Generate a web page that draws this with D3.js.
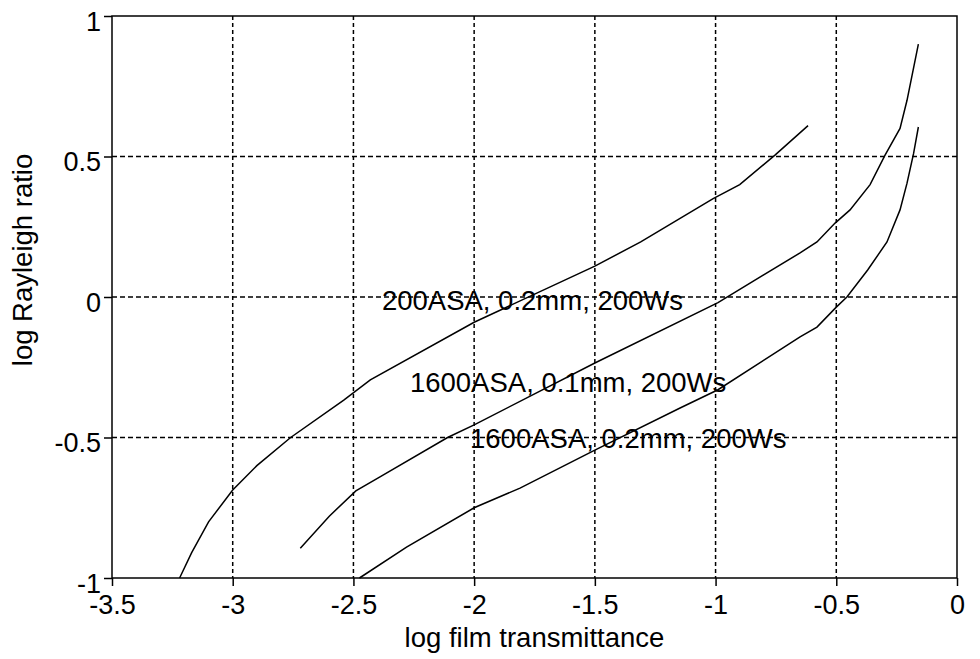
<!DOCTYPE html>
<html>
<head>
<meta charset="utf-8">
<script src="https://cdn.jsdelivr.net/npm/d3@7"></script>
<style>
    body { margin: 0; background: #fff; }
    text { font-family: "Liberation Sans", Arial, Helvetica, sans-serif; fill: #000; }
</style>
</head>
<body>
<script>
//tick values for both axes
var xTicks = [-3.5, -3, -2.5, -2, -1.5, -1, -0.5, 0];
var yTicks = [-1, -0.5, 0, 0.5, 1];
var xGrid = [-3, -2.5, -2, -1.5, -1, -0.5];
var yGrid = [-0.5, 0, 0.5];

//curve 1: 200ASA, 0.2mm, 200Ws
var asa200X = [-3.22, -3.17, -3.10, -3.0, -2.90, -2.76, -2.54, -2.43, -2.0, -1.5, -1.31, -1.01, -0.90, -0.754, -0.617];
var asa200Y = [-1.0, -0.91, -0.80, -0.687, -0.60, -0.50, -0.367, -0.295, -0.09, 0.11, 0.196, 0.35, 0.40, 0.505, 0.61];

//curve 2: 1600ASA, 0.1mm, 200Ws
var asa1600aX = [-2.72, -2.60, -2.49, -2.39, -2.11, -2.0, -1.50, -0.99, -0.65, -0.58, -0.505, -0.443, -0.36, -0.298, -0.236, -0.207, -0.16];
var asa1600aY = [-0.894, -0.78, -0.69, -0.64, -0.50, -0.455, -0.235, -0.02, 0.157, 0.196, 0.263, 0.31, 0.40, 0.505, 0.60, 0.70, 0.90];

//curve 3: 1600ASA, 0.2mm, 200Ws
var asa1600bX = [-2.475, -2.28, -2.0, -1.81, -1.50, -1.147, -0.99, -0.65, -0.58, -0.50, -0.456, -0.37, -0.29, -0.236, -0.207, -0.18, -0.16];
var asa1600bY = [-1.0, -0.89, -0.75, -0.68, -0.545, -0.395, -0.33, -0.142, -0.107, -0.036, 0.0, 0.096, 0.196, 0.31, 0.405, 0.51, 0.605];

//curve labels and where their text starts (data units, baseline)
var labelText = ["200ASA, 0.2mm, 200Ws", "1600ASA, 0.1mm, 200Ws", "1600ASA, 0.2mm, 200Ws"];
var labelX = [-2.382, -2.266, -2.017];
var labelY = [-0.046, -0.338, -0.537];

//svg size and plot margins
var w = 980, h = 659;
var margin = {top: 16, right: 23, bottom: 81, left: 112};

var svg = d3.select("body")
    .append("svg")
    .attr("width", w)
    .attr("height", h)
    .attr("class", "svg");

//scales
var x = d3.scaleLinear()
    .domain([-3.5, 0])
    .range([margin.left, w - margin.right]);

var y = d3.scaleLinear()
    .domain([-1, 1])
    .range([h - margin.bottom, margin.top]);

//plain hyphen minus like the original
var fmt = function(d){
    return String(d);
};

//dashed grid
var vGrid = svg.selectAll(".vGrid")
    .data(xGrid)
    .enter()
    .append("line")
    .attr("class", "vGrid")
    .attr("x1", function(d){ return x(d); })
    .attr("x2", function(d){ return x(d); })
    .attr("y1", y(1))
    .attr("y2", y(-1))
    .style("stroke", "#000")
    .style("stroke-width", 1.5)
    .style("stroke-dasharray", "4,3");

var hGrid = svg.selectAll(".hGrid")
    .data(yGrid)
    .enter()
    .append("line")
    .attr("class", "hGrid")
    .attr("x1", x(-3.5))
    .attr("x2", x(0))
    .attr("y1", function(d){ return y(d); })
    .attr("y2", function(d){ return y(d); })
    .style("stroke", "#000")
    .style("stroke-width", 1.5)
    .style("stroke-dasharray", "5,3");

//axes
var xAxis = d3.axisBottom(x)
    .tickValues(xTicks)
    .tickSizeInner(8)
    .tickSizeOuter(0)
    .tickFormat(fmt);

var yAxis = d3.axisLeft(y)
    .tickValues(yTicks)
    .tickSizeInner(8)
    .tickSizeOuter(0)
    .tickFormat(fmt);

var xAxisG = svg.append("g")
    .attr("class", "xAxis")
    .attr("transform", "translate(0," + y(-1) + ")")
    .call(xAxis);

var yAxisG = svg.append("g")
    .attr("class", "yAxis")
    .attr("transform", "translate(" + x(-3.5) + ",0)")
    .call(yAxis);

svg.selectAll(".xAxis .domain, .yAxis .domain").remove();
svg.selectAll(".tick line")
    .style("stroke", "#000")
    .style("stroke-width", 1.5);
svg.selectAll(".tick text")
    .style("font-size", "27px")
    .style("font-family", "'Liberation Sans', Arial, sans-serif")
    .style("fill", "#000");
xAxisG.selectAll(".tick text")
    .attr("y", 36)
    .attr("dy", 0);
yAxisG.selectAll(".tick text")
    .attr("dy", 14);

//frame
var frame = svg.append("rect")
    .attr("class", "frame")
    .attr("x", x(-3.5))
    .attr("y", y(1))
    .attr("width", x(0) - x(-3.5))
    .attr("height", y(-1) - y(1))
    .style("fill", "none")
    .style("stroke", "#000")
    .style("stroke-width", 1.5);

//curves
var curves = [
    d3.zip(asa200X, asa200Y),
    d3.zip(asa1600aX, asa1600aY),
    d3.zip(asa1600bX, asa1600bY)
];

var line = d3.line()
    .x(function(d){ return x(d[0]); })
    .y(function(d){ return y(d[1]); });

var paths = svg.selectAll(".curves")
    .data(curves)
    .enter()
    .append("path")
    .attr("class", "curves")
    .attr("d", line)
    .style("fill", "none")
    .style("stroke", "#000")
    .style("stroke-width", 1.5);

//curve labels
var labels = svg.selectAll(".labels")
    .data(labelText)
    .enter()
    .append("text")
    .attr("class", "labels")
    .attr("x", function(d, i){ return x(labelX[i]); })
    .attr("y", function(d, i){ return y(labelY[i]); })
    .style("font-size", "27.5px")
    .text(function(d){ return d; });

//axis titles
var xTitle = svg.append("text")
    .attr("class", "xTitle")
    .attr("text-anchor", "middle")
    .attr("x", (x(-3.5) + x(0)) / 2)
    .attr("y", 647)
    .style("font-size", "27.5px")
    .text("log film transmittance");

var yTitle = svg.append("text")
    .attr("class", "yTitle")
    .attr("text-anchor", "middle")
    .attr("transform", "translate(32,260) rotate(-90)")
    .style("font-size", "27.5px")
    .text("log Rayleigh ratio");
</script>
</body>
</html>
